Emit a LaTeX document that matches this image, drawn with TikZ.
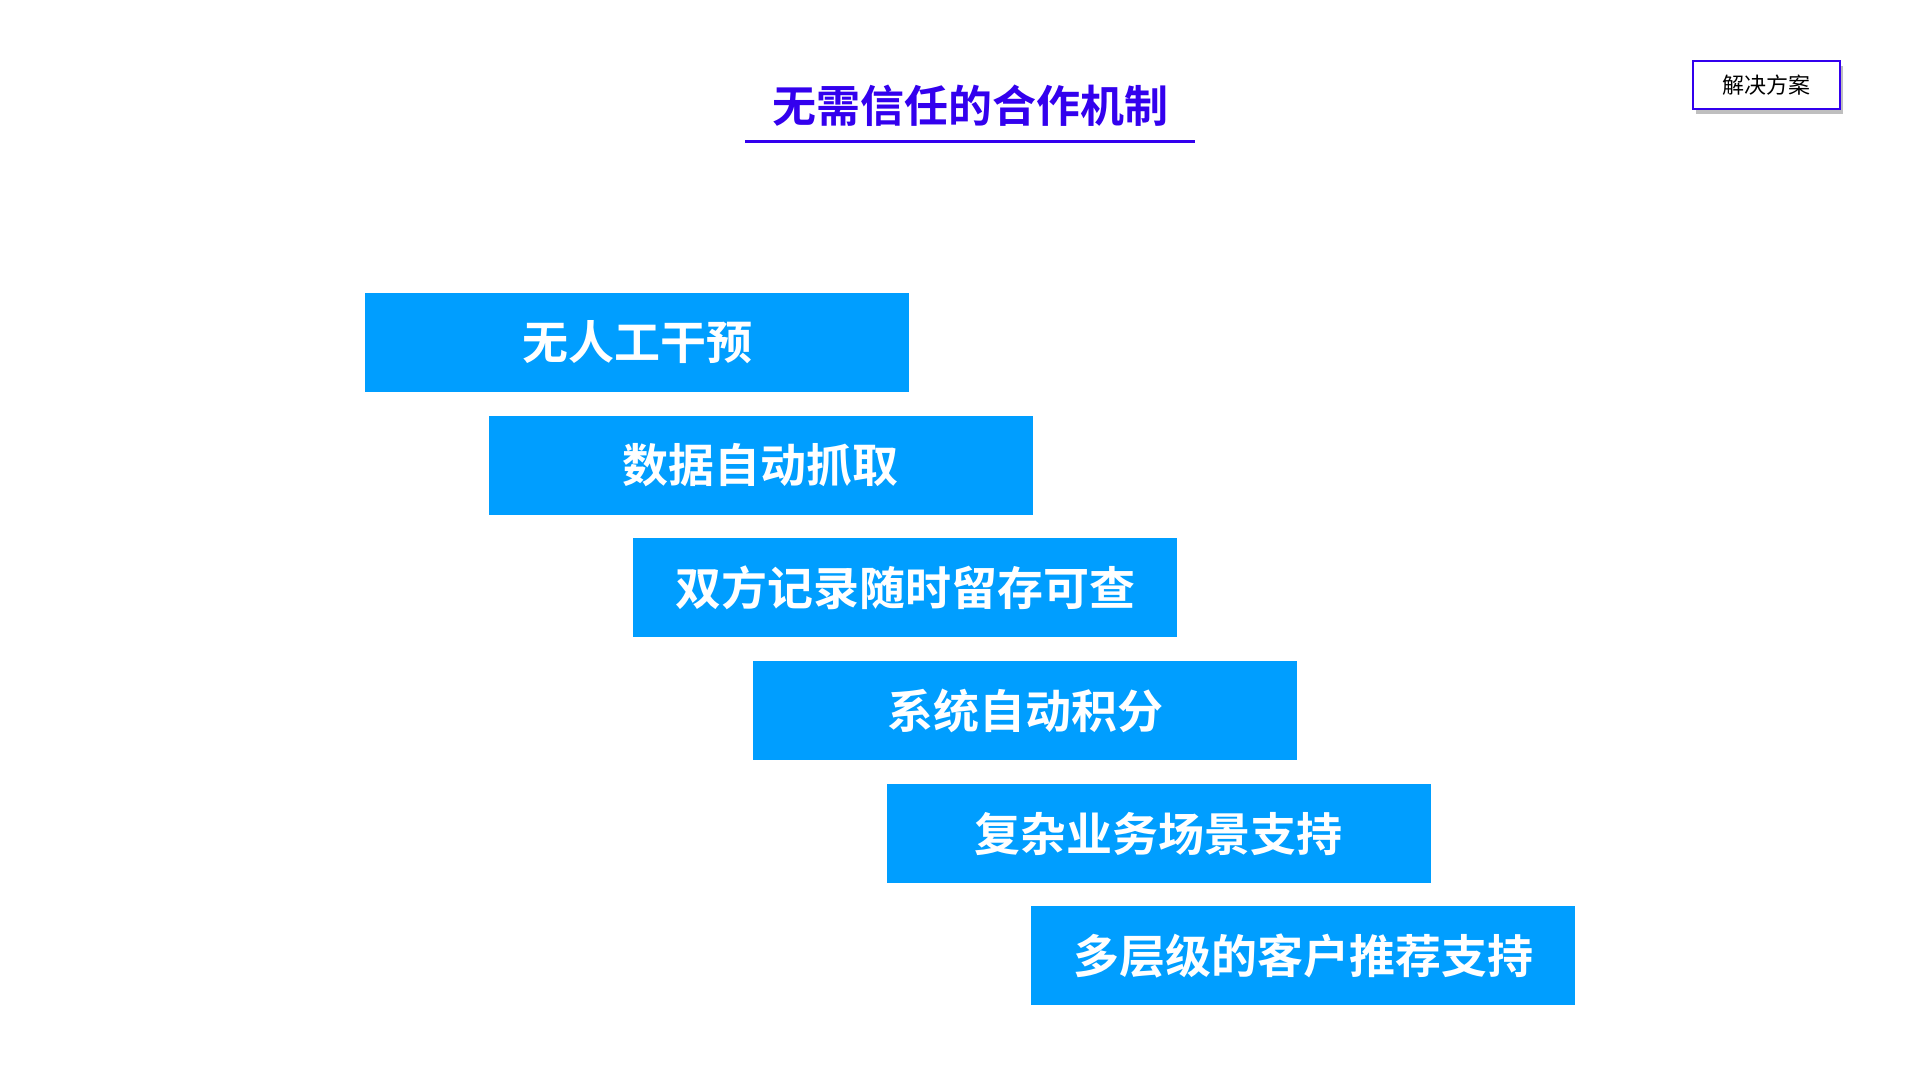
\documentclass[tikz,border=0pt]{standalone}
\usepackage{fontspec}
\newfontfamily\cjk{Noto Sans CJK SC}
\newfontfamily\cjkb{Noto Sans CJK SC Bold}
\usetikzlibrary{shadows}
\definecolor{boxblue}{HTML}{009EFF}
\definecolor{titleblue}{HTML}{3300EE}
\begin{document}
\begin{tikzpicture}[x=1pt,y=-1pt,
  stepbox/.style={fill=boxblue,minimum width=544pt,minimum height=99pt,inner sep=0,text=white,font=\cjkb\fontsize{46}{50}\selectfont}]
\useasboundingbox (0,0) rectangle (1920,1080);
\fill[white] (0,0) rectangle (1920,1080);
\node[font=\cjkb\fontsize{44}{50}\selectfont,text=titleblue] (title) at (970,106) {无需信任的合作机制};
\draw[titleblue,line width=3pt] (745,141) -- (1195,141);
\node[draw=titleblue,line width=1.2pt,fill=white,minimum width=147pt,minimum height=48pt,font=\cjk\fontsize{22}{26}\selectfont,drop shadow={shadow xshift=3pt,shadow yshift=-5pt,opacity=0.5}] (sol) at (1766.5,85) {解决方案};
\node[stepbox] (b1) at (637,342.5) {无人工干预};
\node[stepbox] (b2) at (760.5,465) {数据自动抓取};
\node[stepbox] (b3) at (905,587.5) {双方记录随时留存可查};
\node[stepbox] (b4) at (1025,710.5) {系统自动积分};
\node[stepbox] (b5) at (1158.5,833.5) {复杂业务场景支持};
\node[stepbox] (b6) at (1303,955.5) {多层级的客户推荐支持};
\end{tikzpicture}
\end{document}
